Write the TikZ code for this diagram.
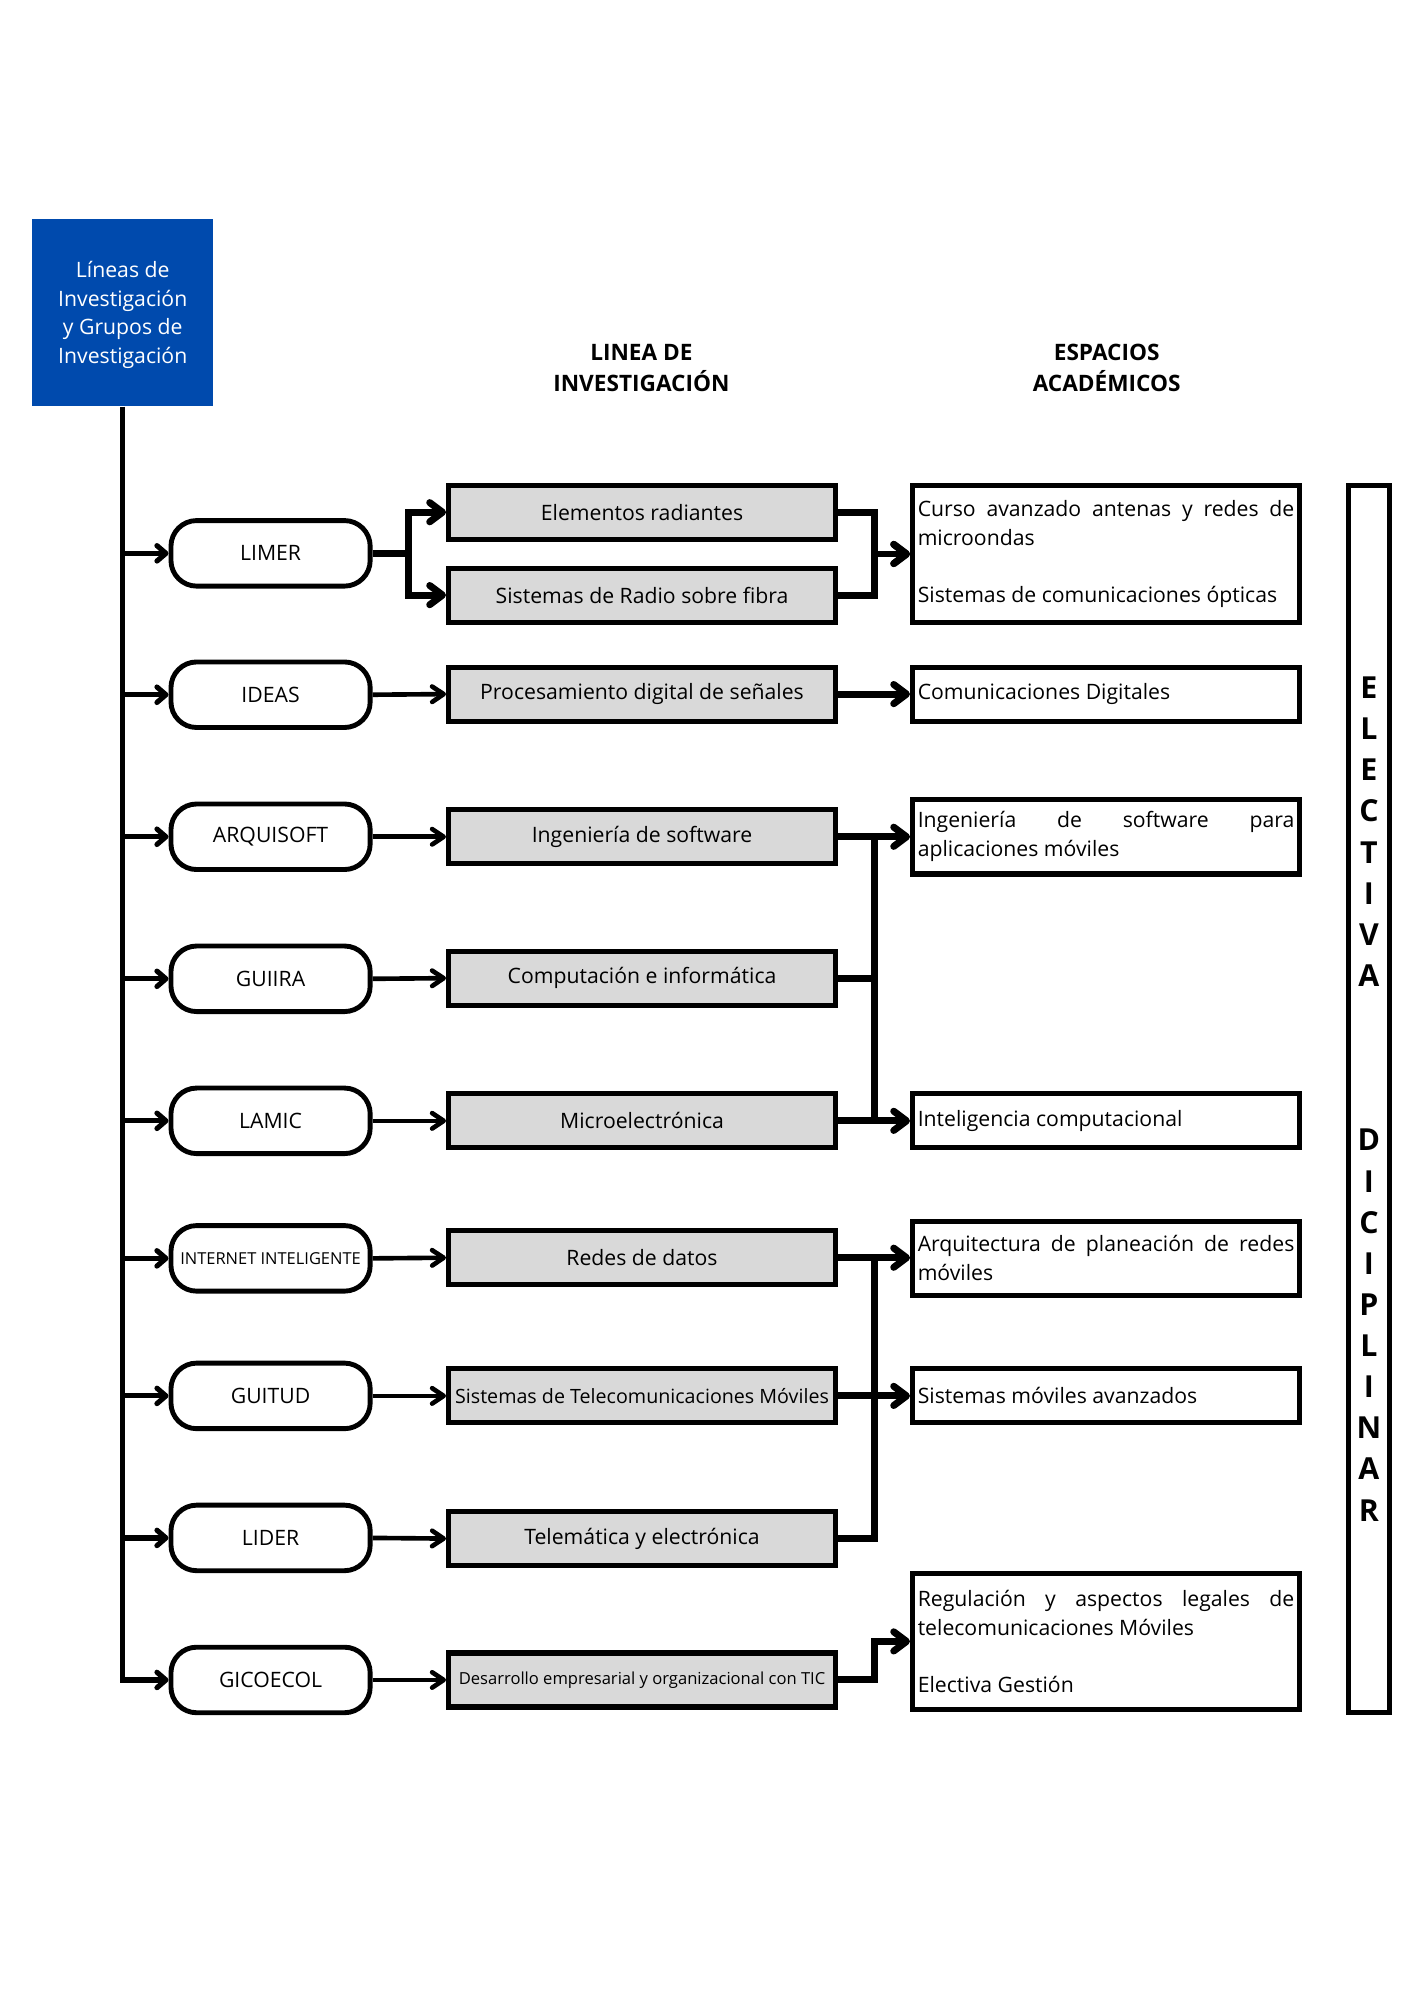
\documentclass[tikz,border=0pt]{standalone}
\usepackage{fontspec}
\setmainfont{Open Sans}
\usetikzlibrary{arrows.meta}
\definecolor{bluebox}{HTML}{004AAD}
\definecolor{graybox}{HTML}{D9D9D9}
\begin{document}
\begin{tikzpicture}[x=0.5pt,y=-0.5pt,
  body/.style={font=\fontsize{8.25pt}{11.2pt}\selectfont},
  grp/.style={draw, line width=1.9pt, rounded corners=10pt, fill=white, minimum width=77.5pt, minimum height=25.5pt, inner sep=0pt, body},
  lin/.style={draw, line width=2pt, fill=graybox, minimum width=150.5pt, minimum height=21pt, inner sep=0pt, body},
  acad/.style={draw, line width=2pt, minimum width=150.5pt, text width=146.5pt, inner xsep=2pt, inner ysep=0pt, align=justify, body, execute at begin node={\hyphenpenalty=10000\tolerance=9999\parindent=0pt}},
  tarr/.style={line width=2pt, -{Straight Barb[length=3.5pt,width=6pt,round]}},
  garr/.style={line width=1.8pt, -{Straight Barb[length=4.5pt,width=6pt,round]}},
  harr/.style={line width=2.7pt, -{Straight Barb[length=5pt,width=7.5pt,round]}},
  hline/.style={line width=2.7pt, line cap=rect},
  head/.style={font=\fontsize{8.8pt}{12pt}\selectfont\bfseries, align=center}
]
\useasboundingbox (0,0) rectangle (1100,1556);

% title box
\node[fill=bluebox, text=white, minimum width=70.5pt, minimum height=73pt, inner sep=0pt, align=center, body, text depth=0pt] (blue) at (95.5,243) {Líneas de\\Investigación\\y Grupos de\\Investigación};

% headers
\node[head] (h1) at (499,286) {LINEA DE\\INVESTIGACIÓN};
\node[head] (h2) at (861,286) {ESPACIOS\\ACADÉMICOS};

% groups
\node[grp] (limer) at (210.5,430.5) {LIMER};
\node[grp] (ideas) at (210.5,540.5) {IDEAS};
\node[grp] (arqs) at (210.5,651) {ARQUISOFT};
\node[grp] (guiira) at (210.5,761.5) {GUIIRA};
\node[grp] (lamic) at (210.5,872) {LAMIC};
\node[grp, font=\fontsize{6.4pt}{8pt}\selectfont] (inet) at (210.5,979) {INTERNET INTELIGENTE};
\node[grp] (guitud) at (210.5,1086) {GUITUD};
\node[grp] (lider) at (210.5,1196.5) {LIDER};
\node[grp] (gico) at (210.5,1307) {GICOECOL};

% research lines
\node[lin] (elem) at (499.5,398.5) {Elementos radiantes};
\node[lin] (sist) at (499.5,463) {Sistemas de Radio sobre fibra};
\node[lin] (proc) at (499.5,540) {Procesamiento digital de señales};
\node[lin] (ing) at (499.5,651) {Ingeniería de software};
\node[lin] (comp) at (499.5,761) {Computación e informática};
\node[lin] (micro) at (499.5,872) {Microelectrónica};
\node[lin] (redes) at (499.5,978.5) {Redes de datos};
\node[lin, font=\fontsize{7.65pt}{9pt}\selectfont] (stm) at (499.5,1086) {Sistemas de Telecomunicaciones Móviles};
\node[lin] (tele) at (499.5,1197) {Telemática y electrónica};
\node[lin, font=\fontsize{6.45pt}{8pt}\selectfont] (des) at (499.5,1307) {Desarrollo empresarial y organizacional con TIC};

% academic spaces
\node[acad, minimum height=53pt] (curso) at (860.5,431) {Curso avanzado antenas y redes de\linebreak microondas\par\vspace{11.2pt}Sistemas de comunicaciones ópticas};
\node[acad, minimum height=21pt] (comdig) at (860.5,540) {Comunicaciones Digitales};
\node[acad, minimum height=29pt] (ingmov) at (860.5,651) {Ingeniería de software para\linebreak aplicaciones móviles};
\node[acad, minimum height=21pt] (intel) at (860.5,872) {Inteligencia computacional};
\node[acad, minimum height=29pt] (arq) at (860.5,979) {Arquitectura de planeación de redes\linebreak móviles};
\node[acad, minimum height=21pt] (smov) at (860.5,1086) {Sistemas móviles avanzados};
\node[acad, minimum height=53pt] (reg) at (860.5,1277) {Regulación y aspectos legales de\linebreak telecomunicaciones Móviles\par\vspace{11.2pt}Electiva Gestión};

% side box
\node[draw, line width=2pt, minimum width=16pt, minimum height=477pt, inner sep=0pt, align=center, font=\fontsize{11.8pt}{16pt}\selectfont\bfseries] (elec) at (1065,855) {E\\L\\E\\C\\T\\I\\V\\A\\[48pt]D\\I\\C\\I\\P\\L\\I\\N\\A\\R};

% junction coordinates
\coordinate (lj) at (318,430.5);
\coordinate (bx) at (680,0);

% trunk
\draw[tarr] (blue.south) |- (gico.west);
\foreach \g in {limer,ideas,arqs,guiira,lamic,inet,guitud,lider}
  \draw[tarr] (blue.south |- \g.west) -- (\g.west);

% groups to lines
\draw[harr] (limer.east) -- (lj) |- (elem.west);
\draw[harr] (lj) |- (sist.west);
\draw[garr] (ideas.east) -- (proc.west);
\draw[garr] (arqs.east) -- (ing.west);
\draw[garr] (guiira.east) -- (comp.west);
\draw[garr] (lamic.east) -- (micro.west);
\draw[garr] (inet.east) -- (redes.west);
\draw[garr] (guitud.east) -- (stm.west);
\draw[garr] (lider.east) -- (tele.west);
\draw[garr] (gico.east) -- (des.west);

% lines to academic spaces
\draw[harr] (elem.east) -- (elem.east -| bx) |- (curso.west);
\draw[harr] (sist.east) -- (sist.east -| bx) |- (curso.west);
\draw[harr] (proc.east) -- (comdig.west);
\draw[harr] (ing.east) -- (ingmov.west);
\draw[hline] (ing.east -| bx) -- (micro.east -| bx);
\draw[hline] (comp.east) -- (comp.east -| bx);
\draw[harr] (micro.east) -- (intel.west);
\draw[harr] (redes.east) -- (redes.east -| arq.west);
\draw[hline] (tele.east) -| (redes.east -| bx);
\draw[harr] (stm.east) -- (smov.west);
\draw[harr] (des.east) -- (des.east -| bx) |- (reg.west);
\end{tikzpicture}
\end{document}
